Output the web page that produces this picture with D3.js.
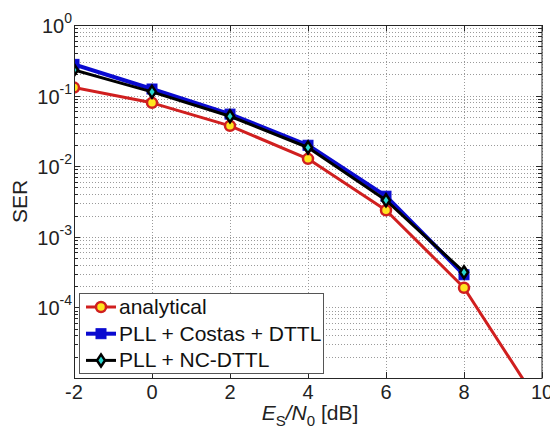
<!DOCTYPE html>
<html>
<head>
<meta charset="utf-8">
<script src="https://cdn.jsdelivr.net/npm/d3@7"></script>
<style>
  body { margin: 0; background: #fff; }
  svg text { font-family: Arial, "Liberation Sans", sans-serif; }
</style>
</head>
<body>
<div id="chart"></div>
<script>
// SER versus Es/N0: analytical curve and two simulated receivers.
var snr = [-2, 0, 2, 4, 6, 8];
var snrAnalytical = [-2, 0, 2, 4, 6, 8, 10];
var serAnalytical = [0.130, 0.079, 0.0373, 0.0127, 0.00238, 1.9e-4, 3.7e-6];
var serCostas = [0.277, 0.124, 0.0547, 0.0198, 0.00376, 2.9e-4];
var serNC = [0.230, 0.113, 0.051, 0.0184, 0.0033, 3.15e-4];
var xTicks = [-2, 0, 2, 4, 6, 8, 10];
var yExp = [0, -1, -2, -3, -4];
var legendLabels = ['analytical', 'PLL + Costas + DTTL', 'PLL + NC-DTTL'];

(function () {
    var W = 550, H = 431;
    var margin = { top: 25, right: 8, bottom: 53, left: 74 };
    var innerW = W - margin.left - margin.right;
    var innerH = H - margin.top - margin.bottom;

    var svg = d3.select('#chart').append('svg')
        .attr('width', W).attr('height', H);
    var g = svg.append('g')
        .attr('transform', 'translate(' + margin.left + ',' + margin.top + ')');

    var x = d3.scaleLinear().domain([-2, 10]).range([0, innerW]);
    var y = d3.scaleLog().domain([1e-5, 1]).range([innerH, 0]);

    g.append('rect').attr('width', innerW).attr('height', innerH).attr('fill', '#fff');

    // grid (major + minor, dotted)
    var minor = [];
    for (var e = -5; e < 0; e++) {
        for (var k = 2; k <= 9; k++) minor.push(k * Math.pow(10, e));
    }
    var majors = yExp.concat([-5]).map(function (p) { return Math.pow(10, p); });
    var grid = g.append('g').attr('stroke', '#9a9a9a').attr('stroke-width', 1)
        .attr('stroke-dasharray', '1 2');
    grid.selectAll('.hy').data(minor.concat(majors)).enter().append('line')
        .attr('x1', 0).attr('x2', innerW)
        .attr('y1', function (d) { return Math.round(y(d)) + 0.5; })
        .attr('y2', function (d) { return Math.round(y(d)) + 0.5; });
    grid.selectAll('.vx').data(xTicks).enter().append('line')
        .attr('y1', 0).attr('y2', innerH)
        .attr('x1', function (d) { return Math.round(x(d)) + 0.5; })
        .attr('x2', function (d) { return Math.round(x(d)) + 0.5; });

    // inward ticks on all four sides
    var ticks = g.append('g').attr('stroke', '#262626').attr('stroke-width', 1);
    xTicks.forEach(function (d) {
        var px = Math.round(x(d)) + 0.5;
        ticks.append('line').attr('x1', px).attr('x2', px).attr('y1', innerH).attr('y2', innerH - 6);
        ticks.append('line').attr('x1', px).attr('x2', px).attr('y1', 0).attr('y2', 6);
    });
    majors.forEach(function (d) {
        var py = Math.round(y(d)) + 0.5;
        ticks.append('line').attr('x1', 0).attr('x2', 6).attr('y1', py).attr('y2', py);
        ticks.append('line').attr('x1', innerW).attr('x2', innerW - 6).attr('y1', py).attr('y2', py);
    });
    minor.forEach(function (d) {
        var py = Math.round(y(d)) + 0.5;
        ticks.append('line').attr('x1', 0).attr('x2', 4).attr('y1', py).attr('y2', py);
        ticks.append('line').attr('x1', innerW).attr('x2', innerW - 4).attr('y1', py).attr('y2', py);
    });

    // clip for curves
    svg.append('defs').append('clipPath').attr('id', 'clip')
        .append('rect').attr('width', innerW).attr('height', innerH);
    var plot = g.append('g').attr('clip-path', 'url(#clip)');

    var line = d3.line()
        .x(function (d) { return x(d[0]); })
        .y(function (d) { return y(d[1]); });

    var series = [
        { xs: snrAnalytical, ys: serAnalytical, color: '#d01f1f', width: 3, marker: 'circle' },
        { xs: snr, ys: serCostas, color: '#0a0ad0', width: 4, marker: 'square' },
        { xs: snr, ys: serNC, color: '#000000', width: 3, marker: 'diamond' }
    ];

    function drawMarker(sel, type, color) {
        if (type === 'circle') {
            sel.append('circle').attr('r', 5).attr('fill', '#ffe620')
                .attr('stroke', color).attr('stroke-width', 2.5);
        } else if (type === 'square') {
            sel.append('rect').attr('x', -5).attr('y', -5).attr('width', 10).attr('height', 10)
                .attr('fill', color).attr('stroke', color).attr('stroke-width', 1);
        } else {
            sel.append('path').attr('d', 'M0,-6L4,0L0,6L-4,0Z')
                .attr('fill', '#28d8d0').attr('stroke', color).attr('stroke-width', 2.5);
        }
    }

    series.forEach(function (s) {
        var pts = s.xs.map(function (v, i) { return [v, s.ys[i]]; });
        plot.append('path').datum(pts)
            .attr('fill', 'none').attr('stroke', s.color)
            .attr('stroke-width', s.width).attr('stroke-linejoin', 'round')
            .attr('d', line);
        plot.selectAll(null).data(pts).enter().append('g')
            .attr('transform', function (d) { return 'translate(' + x(d[0]) + ',' + y(d[1]) + ')'; })
            .each(function () { drawMarker(d3.select(this), s.marker, s.color); });
    });

    // box
    g.append('rect').attr('x', 0.5).attr('y', 0.5)
        .attr('width', innerW - 0.5).attr('height', innerH)
        .attr('fill', 'none').attr('stroke', '#262626').attr('stroke-width', 1);

    // tick labels
    xTicks.forEach(function (d) {
        g.append('text').attr('x', x(d)).attr('y', innerH + 21)
            .attr('text-anchor', 'middle').attr('font-size', 20).attr('fill', '#222')
            .text(d);
    });
    yExp.forEach(function (p) {
        var t = g.append('text').attr('x', -2).attr('y', y(Math.pow(10, p)) + 8)
            .attr('text-anchor', 'end').attr('font-size', 20).attr('fill', '#222');
        t.append('tspan').text('10');
        t.append('tspan').attr('dy', -10).attr('font-size', 14).text(p);
    });

    // axis titles
    var xl = svg.append('text').attr('x', margin.left + innerW / 2 + 2).attr('y', H - 11)
        .attr('text-anchor', 'middle').attr('font-size', 21).attr('fill', '#222');
    xl.append('tspan').attr('font-style', 'italic').text('E');
    xl.append('tspan').attr('font-size', 15).attr('dy', 6).text('S');
    xl.append('tspan').attr('dy', -6).attr('font-style', 'italic').text('/N');
    xl.append('tspan').attr('font-size', 15).attr('dy', 6).text('0');
    xl.append('tspan').attr('dy', -6).text(' [dB]');

    svg.append('text')
        .attr('transform', 'translate(27,' + (margin.top + innerH / 2) + ') rotate(-90)')
        .attr('text-anchor', 'middle').attr('font-size', 21).attr('fill', '#222')
        .text('SER');

    // legend
    var lg = svg.append('g').attr('transform', 'translate(79,293)');
    lg.append('rect').attr('x', 0.5).attr('y', 0.5).attr('width', 244).attr('height', 80)
        .attr('fill', '#fff').attr('stroke', '#555').attr('stroke-width', 1);
    legendLabels.forEach(function (lab, i) {
        var s = series[i];
        var ly = 14 + i * 26.7;
        lg.append('line').attr('x1', 7).attr('x2', 37).attr('y1', ly).attr('y2', ly)
            .attr('stroke', s.color).attr('stroke-width', s.width);
        var m = lg.append('g').attr('transform', 'translate(22,' + ly + ')');
        drawMarker(m, s.marker, s.color);
        lg.append('text').attr('x', 40).attr('y', ly + 7)
            .attr('font-size', 21).attr('fill', '#111').text(lab);
    });
})();
</script>
</body>
</html>
